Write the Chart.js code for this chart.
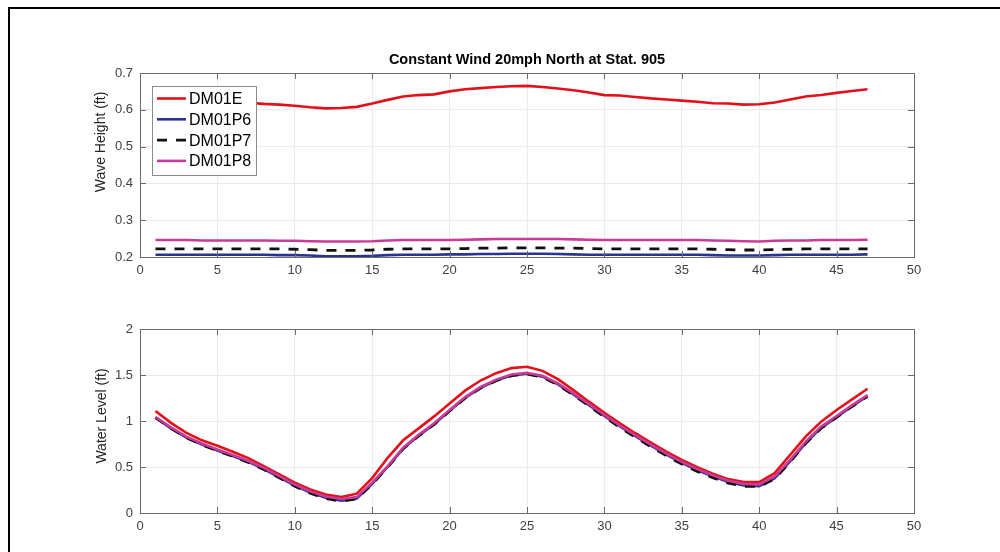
<!DOCTYPE html>
<html>
<head>
<meta charset="utf-8">
<script src="https://cdn.jsdelivr.net/npm/chart.js@4.4.1/dist/chart.umd.min.js"></script>
<style>
  html, body { margin: 0; padding: 0; background: #fff; width: 1000px; height: 552px; overflow: hidden; }
  #frame { position: absolute; left: 8px; top: 7px; width: 1000px; height: 560px; border-top: 2px solid #000; border-left: 2px solid #000; }
  canvas { position: absolute; left: 0; }
  #c1 { top: 0; }
  #c2 { top: 290px; }
</style>
</head>
<body>
<div id="frame"></div>
<canvas id="c1" width="1000" height="290"></canvas>
<canvas id="c2" width="1000" height="262"></canvas>
<script>
// ---------- DATA ----------
const stations = [1,2,3,4,5,6,7,8,9,10,11,12,13,14,15,16,17,18,19,20,21,22,23,24,25,26,27,28,29,30,31,32,33,34,35,36,37,38,39,40,41,42,43,44,45,46,47];
const seriesNames = ['DM01E', 'DM01P6', 'DM01P7', 'DM01P8'];
const chartTitle = 'Constant Wind 20mph North at Stat. 905';
const topYLabel = 'Wave Height (ft)';
const bottomYLabel = 'Water Level (ft)';

// Wave height (ft)
const waveE  = [0.630,0.629,0.627,0.625,0.623,0.621,0.619,0.616,0.614,0.611,0.607,0.604,0.605,0.608,0.617,0.627,0.636,0.640,0.642,0.650,0.656,0.659,0.662,0.664,0.665,0.662,0.658,0.653,0.647,0.640,0.639,0.635,0.631,0.628,0.625,0.622,0.618,0.617,0.614,0.615,0.620,0.628,0.636,0.640,0.646,0.651,0.656];
const waveP6 = [0.206,0.206,0.206,0.206,0.206,0.206,0.206,0.206,0.205,0.205,0.204,0.202,0.202,0.202,0.203,0.205,0.206,0.206,0.206,0.207,0.207,0.208,0.208,0.209,0.209,0.209,0.208,0.207,0.206,0.206,0.206,0.206,0.206,0.206,0.206,0.206,0.205,0.204,0.204,0.204,0.205,0.206,0.206,0.206,0.206,0.206,0.207];
const waveP7 = [0.222,0.222,0.222,0.222,0.222,0.222,0.222,0.222,0.222,0.221,0.220,0.218,0.218,0.218,0.219,0.221,0.222,0.222,0.222,0.222,0.223,0.224,0.224,0.225,0.225,0.225,0.224,0.224,0.223,0.222,0.222,0.222,0.222,0.222,0.222,0.222,0.221,0.220,0.219,0.219,0.220,0.221,0.222,0.222,0.222,0.222,0.222];
const waveP8 = [0.246,0.246,0.246,0.245,0.245,0.245,0.245,0.245,0.244,0.244,0.243,0.242,0.242,0.242,0.243,0.245,0.246,0.246,0.246,0.246,0.247,0.248,0.249,0.249,0.249,0.249,0.249,0.248,0.247,0.246,0.246,0.246,0.246,0.246,0.246,0.246,0.245,0.244,0.243,0.242,0.244,0.245,0.245,0.246,0.246,0.246,0.247];

// Water level (ft)
const levelE  = [1.108,0.980,0.870,0.790,0.730,0.665,0.596,0.510,0.420,0.330,0.255,0.200,0.173,0.210,0.380,0.600,0.790,0.920,1.050,1.190,1.330,1.440,1.520,1.575,1.589,1.545,1.455,1.336,1.210,1.090,0.975,0.867,0.765,0.668,0.578,0.498,0.426,0.368,0.336,0.336,0.433,0.632,0.830,0.993,1.119,1.235,1.350];
const levelP6 = [1.035,0.920,0.820,0.745,0.680,0.620,0.555,0.478,0.388,0.298,0.222,0.165,0.135,0.158,0.318,0.500,0.700,0.840,0.965,1.110,1.250,1.360,1.440,1.495,1.513,1.482,1.398,1.290,1.173,1.054,0.940,0.834,0.732,0.635,0.545,0.465,0.398,0.336,0.300,0.292,0.378,0.560,0.760,0.925,1.042,1.160,1.270];
const levelP7 = [1.038,0.922,0.818,0.742,0.676,0.615,0.550,0.472,0.382,0.292,0.215,0.158,0.128,0.152,0.315,0.498,0.698,0.838,0.963,1.108,1.248,1.358,1.438,1.493,1.511,1.478,1.393,1.283,1.165,1.045,0.930,0.823,0.720,0.622,0.532,0.452,0.385,0.325,0.290,0.288,0.372,0.556,0.756,0.922,1.040,1.158,1.268];
const levelP8 = [1.043,0.930,0.830,0.755,0.690,0.630,0.565,0.490,0.400,0.310,0.235,0.180,0.152,0.173,0.330,0.510,0.710,0.850,0.975,1.120,1.260,1.370,1.450,1.505,1.523,1.491,1.408,1.300,1.184,1.065,0.950,0.845,0.743,0.646,0.556,0.477,0.411,0.350,0.317,0.310,0.397,0.578,0.776,0.939,1.054,1.173,1.282];

// Tick values / labels
const xTicks = [0,5,10,15,20,25,30,35,40,45,50];
const xTickLabels = ['0','5','10','15','20','25','30','35','40','45','50'];
const topYTicks = [0.2,0.3,0.4,0.5,0.6,0.7];
const topYTickLabels = ['0.2','0.3','0.4','0.5','0.6','0.7'];
const botYTicks = [0,0.5,1,1.5,2];
const botYTickLabels = ['0','0.5','1','1.5','2'];

// ---------- STYLE ----------
const FONT = '"Liberation Sans", Arial, Helvetica, sans-serif';
const colors = ['#e3101a', '#2b3391', '#111111', '#cc3a98'];
const dashes = [[], [], [10, 9], []];
const orders = [4, 3, 2, 1];
const tickColor = '#404040';
const boxColor = '#6a6a6a';
const gridColor = '#ebebeb';

function makeDatasets(arrs) {
  return arrs.map((arr, i) => ({
    label: seriesNames[i],
    data: stations.map((s, k) => ({ x: s, y: arr[k] })),
    borderColor: colors[i],
    backgroundColor: colors[i],
    borderWidth: i === 2 ? 2.8 : 2.6,
    borderDash: dashes[i],
    pointRadius: 0,
    tension: 0,
    fill: false,
    order: orders[i]
  }));
}

// plugin: box (top/right lines) + MATLAB-style inward ticks
const boxPlugin = {
  id: 'boxTicks',
  afterDatasetsDraw(chart) {
    const { ctx, chartArea: a, scales } = chart;
    ctx.save();
    ctx.strokeStyle = boxColor;
    ctx.lineWidth = 1;
    ctx.beginPath();
    ctx.moveTo(a.left + 0.5, a.top + 0.5);
    ctx.lineTo(a.right + 0.5, a.top + 0.5);
    ctx.lineTo(a.right + 0.5, a.bottom + 0.5);
    ctx.lineTo(a.left + 0.5, a.bottom + 0.5);
    ctx.lineTo(a.left + 0.5, a.top + 0.5);
    const L = 6;
    scales.x.ticks.forEach(t => {
      const px = Math.round(scales.x.getPixelForValue(t.value)) + 0.5;
      ctx.moveTo(px, a.bottom); ctx.lineTo(px, a.bottom - L);
      ctx.moveTo(px, a.top); ctx.lineTo(px, a.top + L);
    });
    scales.y.ticks.forEach(t => {
      const py = Math.round(scales.y.getPixelForValue(t.value)) + 0.5;
      ctx.moveTo(a.left, py); ctx.lineTo(a.left + L, py);
      ctx.moveTo(a.right, py); ctx.lineTo(a.right - L, py);
    });
    ctx.stroke();
    ctx.restore();
  }
};

// plugin: title, y label, legend (drawn from chart config)
const textPlugin = {
  id: 'texts',
  afterDraw(chart, args, opts) {
    const { ctx, chartArea: a } = chart;
    ctx.save();
    if (opts.title) {
      ctx.font = 'bold 14.5px ' + FONT;
      ctx.fillStyle = '#000';
      ctx.textAlign = 'center';
      ctx.textBaseline = 'middle';
      ctx.fillText(opts.title, (a.left + a.right) / 2, opts.titleY);
    }
    if (opts.yLabel) {
      ctx.font = '14px ' + FONT;
      ctx.fillStyle = '#262626';
      ctx.textAlign = 'center';
      ctx.textBaseline = 'middle';
      ctx.translate(opts.yLabelX, opts.yLabelY);
      ctx.rotate(-Math.PI / 2);
      ctx.fillText(opts.yLabel, 0, 0);
      ctx.setTransform(1, 0, 0, 1, 0, 0);
    }
    if (opts.legend) {
      const lg = opts.legend;
      ctx.fillStyle = '#fff';
      ctx.fillRect(lg.x, lg.y, lg.w, lg.h);
      ctx.strokeStyle = '#8a8a8a';
      ctx.lineWidth = 1;
      ctx.strokeRect(lg.x + 0.5, lg.y + 0.5, lg.w, lg.h);
      ctx.font = '16px ' + FONT;
      ctx.textAlign = 'left';
      ctx.textBaseline = 'middle';
      chart.data.datasets.forEach((ds, i) => {
        const yy = lg.y + lg.rowStart + i * lg.rowGap;
        ctx.strokeStyle = ds.borderColor;
        ctx.lineWidth = ds.borderWidth;
        ctx.setLineDash(ds.borderDash || []);
        ctx.beginPath();
        ctx.moveTo(lg.x + 5, yy);
        ctx.lineTo(lg.x + 34, yy);
        ctx.stroke();
        ctx.setLineDash([]);
        ctx.fillStyle = '#000';
        ctx.fillText(ds.label, lg.x + 37, yy + 1);
      });
    }
    ctx.restore();
  }
};

function axisCfg(ticksArr, labelsArr, extra) {
  return Object.assign({
    afterBuildTicks(s) { s.ticks = ticksArr.map(v => ({ value: v })); },
    ticks: {
      color: tickColor,
      font: { family: FONT, size: 13 },
      autoSkip: false,
      maxRotation: 0,
      callback: (v, i) => labelsArr[i]
    },
    grid: { color: gridColor, drawTicks: false, lineWidth: 1 },
    border: { display: true, color: boxColor }
  }, extra);
}

function makeChart(id, arrs, yTicks, yLabels, yMin, yMax, padTop, xHeight, textOpts) {
  const xa = axisCfg(xTicks, xTickLabels, { type: 'linear', min: 0, max: 50 });
  xa.ticks.padding = 6;
  xa.afterFit = s => { s.height = xHeight; };
  const ya = axisCfg(yTicks, yLabels, { type: 'linear', min: yMin, max: yMax });
  ya.ticks.padding = 7;
  ya.afterFit = s => { s.width = 140; };
  return new Chart(document.getElementById(id), {
    type: 'line',
    data: { datasets: makeDatasets(arrs) },
    options: {
      responsive: false,
      animation: false,
      layout: { padding: { top: padTop, right: 86, left: 0, bottom: 0 } },
      plugins: { legend: { display: false }, tooltip: { enabled: false }, title: { display: false }, texts: textOpts },
      scales: { x: xa, y: ya }
    },
    plugins: [boxPlugin, textPlugin]
  });
}

makeChart('c1', [waveE, waveP6, waveP7, waveP8], topYTicks, topYTickLabels, 0.2, 0.7, 73, 33, {
  title: chartTitle, titleY: 60,
  yLabel: topYLabel, yLabelX: 101, yLabelY: 142,
  legend: { x: 152, y: 86, w: 104, h: 89, rowStart: 12.5, rowGap: 20.8 }
});
makeChart('c2', [levelE, levelP6, levelP7, levelP8], botYTicks, botYTickLabels, 0, 2, 39, 39, {
  yLabel: bottomYLabel, yLabelX: 102, yLabelY: 126
});
</script>
</body>
</html>
